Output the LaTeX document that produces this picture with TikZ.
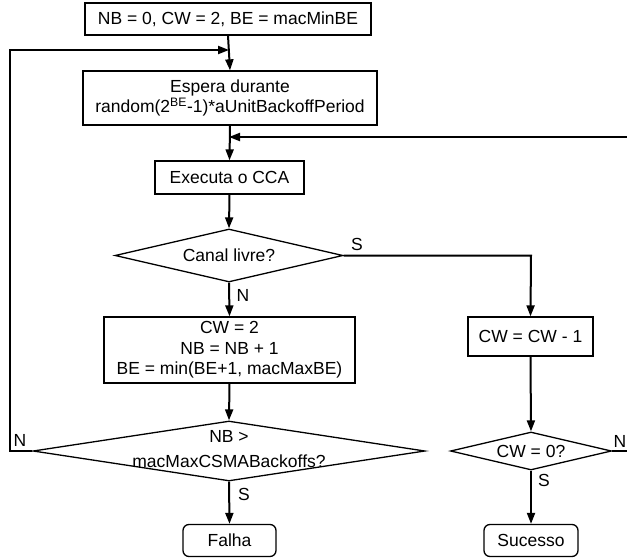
\documentclass[tikz,border=0pt]{standalone}
\usepackage{fontspec}
\setmainfont{Liberation Sans}
\usetikzlibrary{shapes.geometric,arrows.meta}
\begin{document}
\begin{tikzpicture}[x=1pt,y=-1pt,
  every node/.style={font=\fontsize{17.5}{20.5}\selectfont},
  box/.style={draw, line width=1.3pt, inner sep=0, align=center},
  term/.style={box, rounded corners=6pt},
  dia/.style={draw, diamond, line width=1.3pt, inner sep=0},
  txt/.style={inner sep=0, align=center},
  flow/.style={line width=2pt, -{Triangle[length=11pt,width=8pt]}},
  link/.style={line width=2pt},
  lbl/.style={inner sep=0}]
\useasboundingbox (0,0) rectangle (627,560);

% process boxes
\node[box, minimum width=286pt, minimum height=32pt] (init) at (228,19) {NB = 0, CW = 2, BE = macMinBE};
\node[box, minimum width=294pt, minimum height=54pt] (wait) at (230,98)
  {Espera durante\\random(2\textsuperscript{BE}-1)*aUnitBackoffPeriod};
\node[box, minimum width=149pt, minimum height=33pt] (cca) at (229.5,177.5) {Executa o CCA};
\node[box, minimum width=251pt, minimum height=66pt] (upd) at (229.5,350)
  {CW = 2\\NB = NB + 1\\BE = min(BE+1, macMaxBE)};
\node[box, minimum width=125pt, minimum height=39pt] (dec) at (530.5,336.5) {CW = CW - 1};

% decisions
\node[dia, minimum width=228pt, minimum height=53pt] (canal) at (229,255.5) {};
\node[txt] (canalt) at (canal) {Canal livre?};
\node[dia, minimum width=392pt, minimum height=60pt] (nbd) at (229,451) {};
\node[txt] (nbdt) at (229,449) {NB >\\[4pt]macMaxCSMABackoffs?};
\node[dia, minimum width=161pt, minimum height=38pt] (cwd) at (531,451) {};
\node[txt] (cwdt) at (cwd) {CW = 0?};

% terminals
\node[term, minimum width=93pt, minimum height=32pt] (falha) at (229.5,540.5) {Falha};
\node[term, minimum width=94pt, minimum height=32pt] (succ) at (531,540.5) {Sucesso};

% junctions and loop ends
\coordinate (j1) at (229,50);
\coordinate (j2) at (229,137);
\coordinate (lb) at (10,451);
\coordinate (lt) at (10,50);
\coordinate (rb) at (627,451);
\coordinate (rt) at (627,137);
\coordinate (sc) at (531,255.5);

% main flow
\draw[flow] (init.south) -- (wait.north);
\draw[flow] (wait.south) -- (cca.north);
\draw[flow] (cca.south) -- (canal.north);
\draw[flow] (canal.south) -- (upd.north);
\draw[flow] (upd.south) -- (nbd.north);
\draw[flow] (nbd.south) -- (falha.north);
\draw[flow] (canal.east) -- (sc) -- (dec.north);
\draw[flow] (dec.south) -- (cwd.north);
\draw[flow] (cwd.south) -- (succ.north);

% retry loops
\draw[flow] (nbd.west) -- (lb) -- (lt) -- (j1);
\draw[link] (cwd.east) -- (rb);
\draw[flow] (rt) -- (j2);

% branch labels
\node[lbl] (lsc) at (357,244) {S};
\node[lbl] (lnc) at (243,295) {N};
\node[lbl] (lnn) at (20,440) {N};
\node[lbl] (lsn) at (244,494) {S};
\node[lbl] (lnw) at (620,441) {N};
\node[lbl] (lsw) at (544,480) {S};
\end{tikzpicture}
\end{document}
